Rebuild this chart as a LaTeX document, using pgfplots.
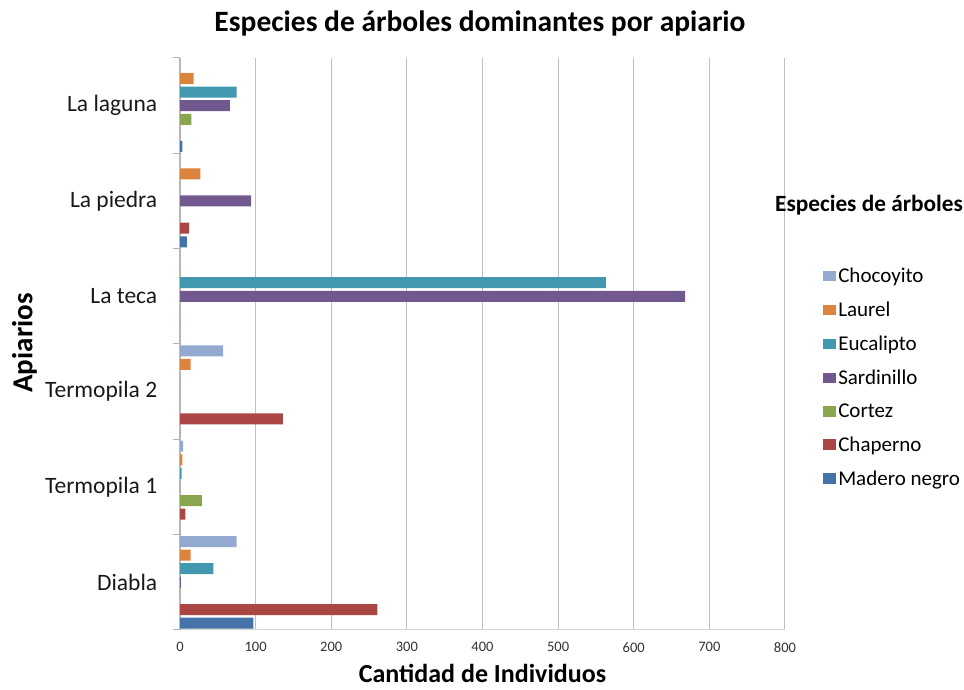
\documentclass[border=0pt]{standalone}
\usepackage{fontspec}
\setmainfont{Carlito}
\usepackage{pgfplots}
\pgfplotsset{compat=1.18}
\definecolor{cChoc}{HTML}{93A9CF}
\definecolor{cLaur}{HTML}{DB843D}
\definecolor{cEuca}{HTML}{4198AF}
\definecolor{cSard}{HTML}{71588F}
\definecolor{cCort}{HTML}{89A54E}
\definecolor{cChap}{HTML}{AA4643}
\definecolor{cMade}{HTML}{4572A7}
\pgfplotsset{sqlegend/.style={legend image code/.code={\useasboundingbox (0pt,-5.3pt) rectangle (13pt,5.3pt); \fill[##1] (0pt,-5.3pt) rectangle (10.6pt,5.3pt);}}}
\begin{document}
\begin{tikzpicture}[x=1pt,y=1pt]
\useasboundingbox (0,0) rectangle (964,690);
\begin{axis}[
  at={(180pt,60pt)}, anchor=south west,
  width=605pt, height=572pt, scale only axis,
  xbar, bar width=11pt,
  xmin=0, xmax=800, ymin=-0.5, ymax=5.5,
  xtick={0,100,...,800},
  ytick={0,...,5},
  yticklabels={Diabla,Termopila 1,Termopila 2,La teca,La piedra,La laguna},
  extra y ticks={-0.5,0.5,1.5,2.5,3.5,4.5,5.5},
  extra y tick labels={},
  extra y tick style={ytick style={draw=gray!60, line width=1pt}, tick align=outside, major tick length=7pt, ymajorgrids=false},
  ytick style={draw=none},
  xtick style={draw=none},
  axis lines*=left,
  x axis line style={draw=gray!35, line width=1pt, -},
  y axis line style={draw=gray!55, line width=1.2pt, -},
  xmajorgrids, grid style={gray!50, line width=1pt},
  /pgf/number format/assume math mode=true,
  xticklabel style={font=\fontsize{14.5}{17}\selectfont, text=black!80, yshift=-9pt},
  yticklabel style={font=\fontsize{23.5}{27}\selectfont, text=black!90, xshift=-15pt},
  legend style={at={(axis description cs:1.058,0.64)}, anchor=north west, draw=none, fill=none,
    font=\fontsize{21}{24}\selectfont, row sep=13.8pt, legend cell align=left},
  clip=false,
]
\addplot[fill=cChoc, draw=none, bar shift=40.8pt, sqlegend] coordinates {(75,0) (4,1) (57,2) (0,3) (0,4) (0,5)};
\addplot[fill=cLaur, draw=none, bar shift=27.2pt, sqlegend] coordinates {(14,0) (3,1) (14,2) (0,3) (27,4) (18,5)};
\addplot[fill=cEuca, draw=none, bar shift=13.6pt, sqlegend] coordinates {(44,0) (2,1) (0,2) (563,3) (0,4) (75,5)};
\addplot[fill=cSard, draw=none, bar shift=0pt, sqlegend] coordinates {(1,0) (0,1) (0,2) (668,3) (94,4) (66,5)};
\addplot[fill=cCort, draw=none, bar shift=-13.6pt, sqlegend] coordinates {(0,0) (29,1) (0,2) (0,3) (0,4) (15,5)};
\addplot[fill=cChap, draw=none, bar shift=-27.2pt, sqlegend] coordinates {(261,0) (7,1) (136,2) (0,3) (12,4) (0,5)};
\addplot[fill=cMade, draw=none, bar shift=-40.8pt, sqlegend] coordinates {(97,0) (0,1) (0,2) (0,3) (9,4) (3,5)};
\legend{Chocoyito,Laurel,Eucalipto,Sardinillo,Cortez,Chaperno,Madero negro}
\end{axis}
\node[font=\bfseries\fontsize{29.5}{34}\selectfont, anchor=base] at (480,658) {Especies de árboles dominantes por apiario};
\node[font=\bfseries\fontsize{29}{34}\selectfont, rotate=90, anchor=base] at (32.3,347) {Apiarios};
\node[font=\bfseries\fontsize{26}{30}\selectfont, anchor=base, inner sep=0pt] at (482.5,7.5) {Cantidad de Individuos};
\node[font=\bfseries\fontsize{23.3}{27}\selectfont] at (869,485) {Especies de árboles};
\end{tikzpicture}
\end{document}
